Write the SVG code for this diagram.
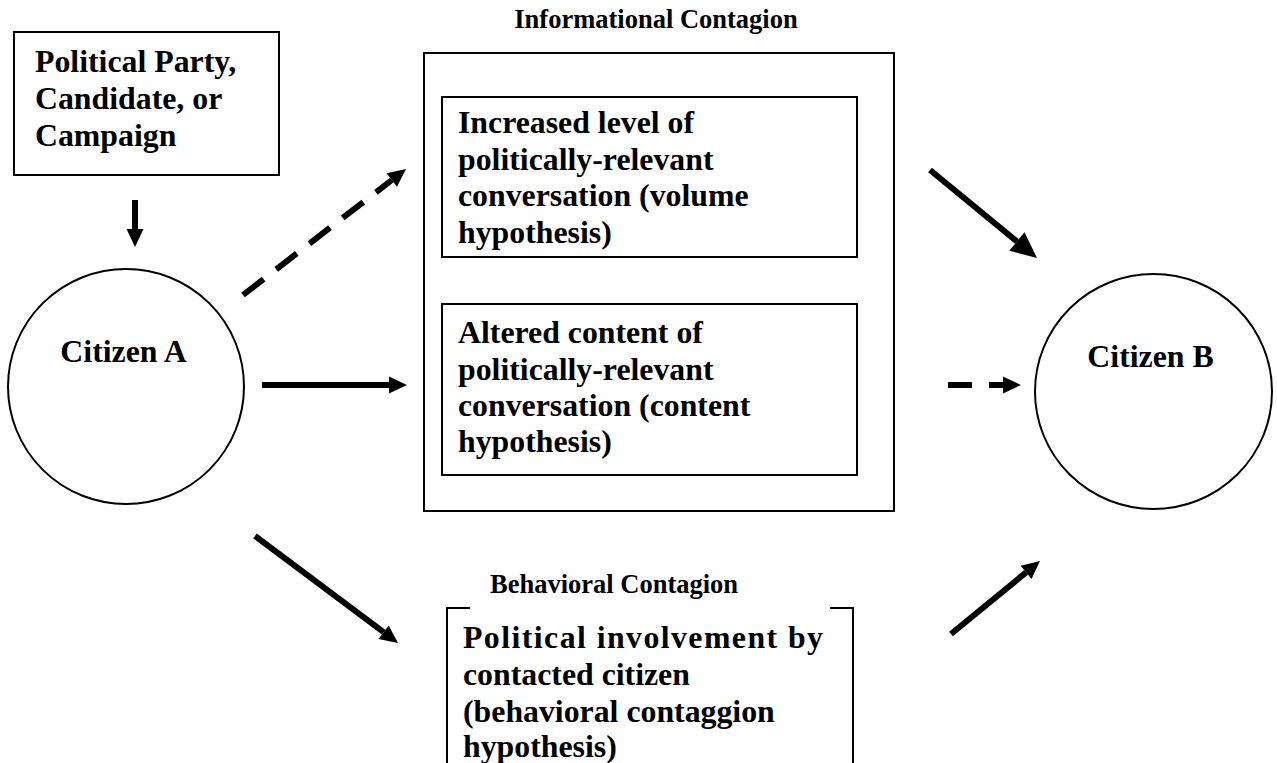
<svg xmlns="http://www.w3.org/2000/svg" width="1277" height="763" viewBox="0 0 1277 763">
<style>
  .box { fill: #fff; stroke: #000; stroke-width: 2; }
  .ell { fill: #fff; stroke: #000; stroke-width: 2; }
  .t { font-family: "Liberation Serif", "Times New Roman", serif; font-weight: bold; font-size: 31.8px; fill: #000; }
  .title { font-family: "Liberation Serif", "Times New Roman", serif; font-weight: bold; font-size: 26.5px; fill: #000; }
  .arr { stroke: #000; stroke-width: 6; fill: none; }
  .dash { stroke-dasharray: 26 16; }
  .bracket { stroke: #000; stroke-width: 2; fill: none; }
</style>
<defs>
  <marker id="ah" markerUnits="userSpaceOnUse" markerWidth="20" markerHeight="20" refX="0" refY="8.5" orient="auto" overflow="visible">
    <path d="M0,0 L18,8.5 L0,17 z" fill="#000"/>
  </marker>
  <marker id="ahBig" markerUnits="userSpaceOnUse" markerWidth="30" markerHeight="30" refX="0" refY="12" orient="auto" overflow="visible">
    <path d="M0,0 L26,12 L0,24 z" fill="#000"/>
  </marker>
</defs>
<rect width="1277" height="763" fill="#fff"/>

<g id="political-party">
  <rect class="box" x="14" y="32" width="265" height="143"/>
  <text class="t" x="35" y="72">Political Party,</text>
  <text class="t" x="35" y="109">Candidate, or</text>
  <text class="t" x="35" y="146">Campaign</text>
</g>

<g id="citizen-a">
  <ellipse class="ell" cx="126" cy="386.5" rx="118" ry="117.5"/>
  <text class="t" x="123.5" y="362" text-anchor="middle">Citizen A</text>
</g>

<g id="informational-contagion">
  <text class="title" x="656" y="28" text-anchor="middle">Informational Contagion</text>
  <rect class="box" x="424" y="53" width="470" height="458"/>
</g>

<g id="volume-hypothesis">
  <rect class="box" x="442" y="97" width="415" height="160"/>
  <text class="t" x="458" y="133">Increased level of</text>
  <text class="t" x="458" y="170">politically-relevant</text>
  <text class="t" x="458" y="206">conversation (volume</text>
  <text class="t" x="458" y="243">hypothesis)</text>
</g>

<g id="content-hypothesis">
  <rect class="box" x="442" y="304" width="415" height="171"/>
  <text class="t" x="458" y="343">Altered content of</text>
  <text class="t" x="458" y="380">politically-relevant</text>
  <text class="t" x="458" y="416">conversation (content</text>
  <text class="t" x="458" y="452">hypothesis)</text>
</g>

<g id="behavioral-contagion">
  <text class="title" x="490" y="593">Behavioral Contagion</text>
  <path class="bracket" d="M470,608 H447 V770"/>
  <path class="bracket" d="M830,608 H853 V770"/>
  <text class="t" x="463" y="648" textLength="360" lengthAdjust="spacing">Political involvement by</text>
  <text class="t" x="463" y="685">contacted citizen</text>
  <text class="t" x="463" y="722">(behavioral contaggion</text>
  <text class="t" x="463" y="757">hypothesis)</text>
</g>

<g id="citizen-b">
  <ellipse class="ell" cx="1153.5" cy="391.5" rx="118.5" ry="117.5"/>
  <text class="t" x="1150.5" y="367" text-anchor="middle">Citizen B</text>
</g>

<g id="connectors">
  <line class="arr" x1="135" y1="200" x2="135" y2="229" marker-end="url(#ah)"/>
  <line class="arr dash" x1="243" y1="295" x2="391.8" y2="180" marker-end="url(#ah)"/>
  <line class="arr" x1="262" y1="385" x2="389" y2="385" marker-end="url(#ah)"/>
  <line class="arr" x1="255" y1="536" x2="383.6" y2="632.2" marker-end="url(#ah)"/>
  <line class="arr" x1="930" y1="170" x2="1016.9" y2="241.5" stroke-width="8" marker-end="url(#ahBig)"/>
  <line class="arr" x1="948" y1="385" x2="1003" y2="385" stroke-dasharray="24 17" marker-end="url(#ah)"/>
  <line class="arr" x1="951" y1="634" x2="1026.1" y2="572.4" marker-end="url(#ah)"/>
</g>
</svg>
